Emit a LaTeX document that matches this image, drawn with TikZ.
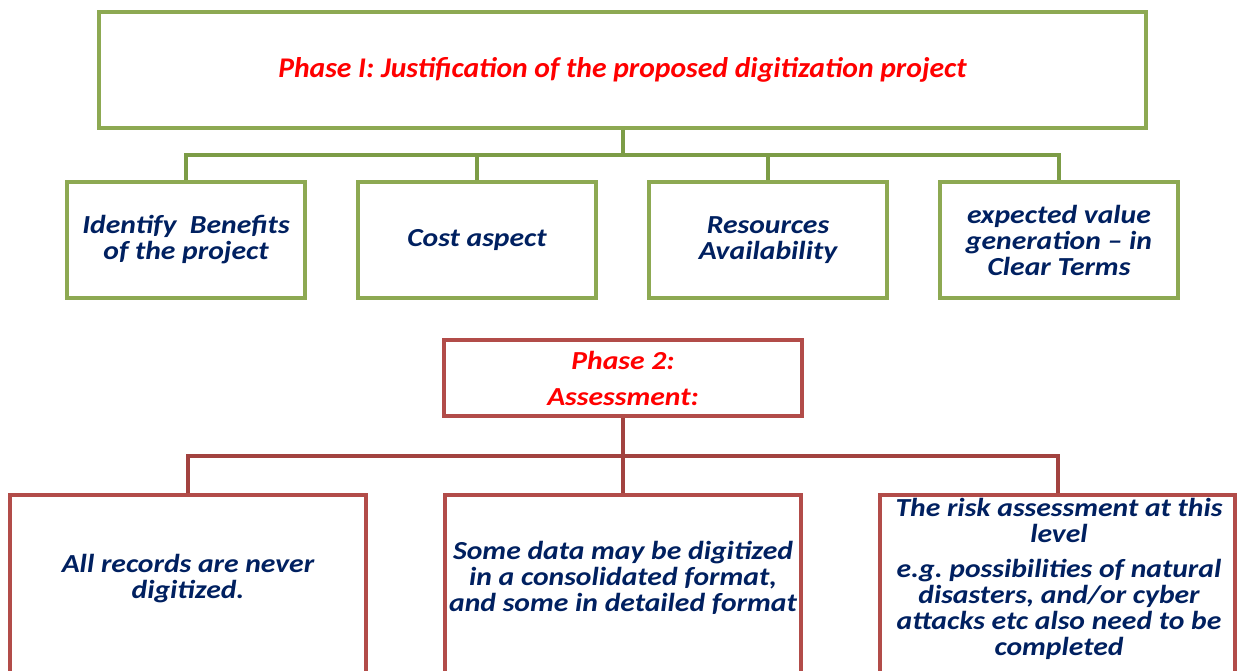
\documentclass[tikz,border=0pt]{standalone}
\usepackage{fontspec}
\setmainfont{Carlito}
\newfontfamily\wfont{Carlito}[FakeStretch=1.14,Ligatures=TeX]
\newfontfamily\tfont{Carlito}[FakeStretch=1.04,Ligatures=TeX]
\frenchspacing
\definecolor{gborder}{RGB}{141,169,82}
\definecolor{gline}{RGB}{124,156,70}
\definecolor{rborder}{RGB}{178,76,73}
\definecolor{rline}{RGB}{162,66,63}
\definecolor{navy}{RGB}{0,32,96}
\definecolor{tred}{RGB}{255,0,0}
\tikzset{
  gbox/.style={draw=gborder, line width=4pt, minimum width=238pt, minimum height=116pt, inner sep=2pt, align=center, text=navy, font=\wfont\bfseries\itshape\fontsize{26}{26}\selectfont},
  rbox/.style={draw=rborder, line width=4pt, inner sep=0pt},
  btext/.style={align=center, text=navy, font=\wfont\bfseries\itshape\fontsize{26}{26}\selectfont},
  gconn/.style={draw=gline, line width=4pt},
  rconn/.style={draw=rline, line width=4pt},
}
\begin{document}
\begin{tikzpicture}[x=1pt,y=-1pt]
\useasboundingbox (0,0) rectangle (1239,671);
\begin{scope}
\clip (0,0) rectangle (1239,671);
% Phase 1
\node[draw=gborder, line width=4pt, minimum width=1047pt, minimum height=116pt, text=tred, font=\tfont\bfseries\itshape\fontsize{28.5}{30}\selectfont] (p1) at (622.5,70) {Phase I: Justification of the proposed digitization project};
\coordinate (bus1) at (0,155);
\node[gbox] (b1) at (186,240) {Identify\ \ Benefits\\of the project};
\node[gbox] (b2) at (477,240) {Cost aspect};
\node[gbox] (b3) at (768,240) {Resources\\Availability};
\node[gbox] (b4) at (1059,240) {expected value\\generation – in\\Clear Terms};
\draw[gconn] (p1.south) -- (p1.south |- bus1);
\draw[gconn] (b1.north) -- (b1.north |- bus1) -- (b4.north |- bus1) -- (b4.north);
\draw[gconn] (b2.north) -- (b2.north |- bus1);
\draw[gconn] (b3.north) -- (b3.north |- bus1);
% Phase 2
\node[draw=rborder, line width=4pt, minimum width=358pt, minimum height=76pt, inner sep=0pt, align=center, text=tred, font=\wfont\bfseries\itshape\fontsize{26}{26}\selectfont] (p2) at (623,378) {Phase 2:\\[10pt]Assessment:};
\coordinate (bus2) at (0,456);
\node[rbox, minimum width=356pt, minimum height=205pt] (c1) at (188,597.5) {};
\node[rbox, minimum width=356pt, minimum height=205pt] (c2) at (623,597.5) {};
\node[rbox, minimum width=355pt, minimum height=205pt] (c3) at (1057.5,597.5) {};
\draw[rconn] (p2.south) -- (c2.north);
\draw[rconn] (c1.north) -- (c1.north |- bus2) -- (c3.north |- bus2) -- (c3.north);
\node[btext] (t1) at (188,579) {All records are never\\digitized.};
\node[btext] (t2) at (623,578) {Some data may be digitized\\in a consolidated format,\\and some in detailed format};
\node[btext] (t3) at (1059,579) {The risk assessment at this\\level\\[9pt]e.g. possibilities of natural\\disasters, and/or cyber\\attacks etc also need to be\\completed};
\end{scope}
\end{tikzpicture}
\end{document}
